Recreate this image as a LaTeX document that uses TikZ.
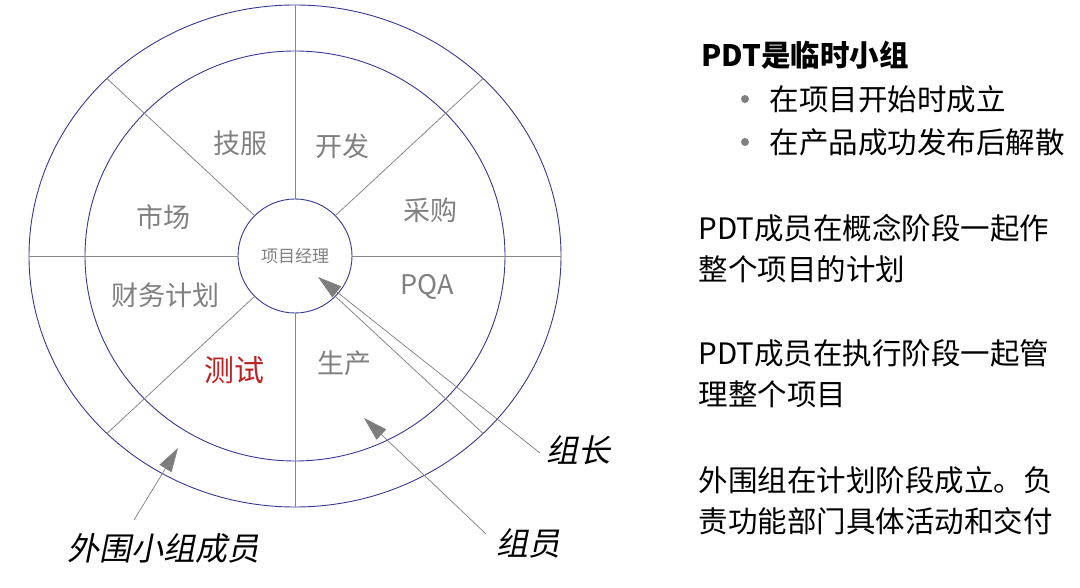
\documentclass[tikz,border=0pt]{standalone}
\usepackage{fontspec}
\setmainfont{Noto Sans CJK SC}
\newfontfamily\slantcjk[FakeSlant=0.2]{Noto Sans CJK SC}
\usepackage{xcolor}
\usetikzlibrary{arrows.meta,calc}
\definecolor{ringCol}{RGB}{55,55,145}
\definecolor{lineCol}{RGB}{135,135,135}
\definecolor{secCol}{RGB}{128,128,128}
\definecolor{testCol}{RGB}{190,35,35}
\definecolor{ptrCol}{RGB}{125,125,125}
\tikzset{
  ring/.style={draw=ringCol, line width=0.9pt},
  divider/.style={draw=lineCol, line width=0.8pt},
  pmnode/.style={circle, draw=ringCol, line width=0.9pt, minimum size=114pt,
                 inner sep=0pt, font=\fontsize{17}{17}\selectfont, text=secCol},
  sector/.style={font=\fontsize{27}{27}\selectfont, text=secCol},
  role/.style={font=\slantcjk\fontsize{32}{32}\selectfont},
  ptr/.style={-{Triangle[length=24pt,width=14pt]}, draw=ptrCol, line width=0.7pt},
  note/.style={anchor=west, align=left, font=\fontsize{29.5}{41}\selectfont},
  bul/.style={circle, fill=secCol, minimum size=8pt, inner sep=0pt},
}

\begin{document}
\begin{tikzpicture}[x=1pt,y=1pt]
  \useasboundingbox (0,0) rectangle (1080,587);
  % wheel
  \coordinate (ctr) at (295,331);
  \node[pmnode] (pm) at (ctr) {项目经理};
  \draw[ring] (ctr) ellipse [x radius=266, y radius=251];
  \draw[ring] (ctr) ellipse [x radius=210, y radius=205];
  \foreach \a in {0,45,...,315}
    \draw[divider] (pm.\a) -- ($(ctr)+(\a:266 and 251)$);

  % sectors
  \node[sector] (jf) at (240,444) {技服};
  \node[sector] (kf) at (342,441) {开发};
  \node[sector] (cg) at (430,377) {采购};
  \node[sector] (pqa) at (427,300) {PQA};
  \node[sector] (sc) at (344,224) {生产};
  \node[sector, text=testCol, font=\fontsize{30}{30}\selectfont] (cs) at (234,217) {测试};
  \node[sector] (cw) at (165,292) {财务计划};
  \node[sector] (mk) at (163,370) {市场};

  % pointers
  \node[role] (lead) at (578,137) {组长};
  \node[role] (memb) at (528,44) {组员};
  \node[role] (ext) at (163,39) {外围小组成员};
  \coordinate (leadT) at (540,134);
  \coordinate (leadH) at (318,310);
  \coordinate (membT) at (486,53);
  \coordinate (membH) at (364,169);
  \coordinate (extT) at (134,67);
  \coordinate (extH) at (178,139);
  \draw[ptr] (leadT) -- (leadH);
  \draw[ptr] (membT) -- (membH);
  \draw[ptr] (extT) -- (extH);

  % notes
  \node[note, font=\fontsize{29.5}{41}\selectfont\bfseries] (t1) at (698,532) {PDT是临时小组};
  \node[bul] (b1) at (745,488) {};
  \node[bul] (b2) at (745,445) {};
  \node[note] (i1) at (766,488) {在项目开始时成立};
  \node[note] (i2) at (766,445) {在产品成功发布后解散};
  \node[note] (p1) at (695,338) {PDT成员在概念阶段一起作\\整个项目的计划};
  \node[note] (p2) at (695,213) {PDT成员在执行阶段一起管\\理整个项目};
  \node[note] (p3) at (695,86) {外围组在计划阶段成立。负\\责功能部门具体活动和交付};
\end{tikzpicture}
\end{document}
